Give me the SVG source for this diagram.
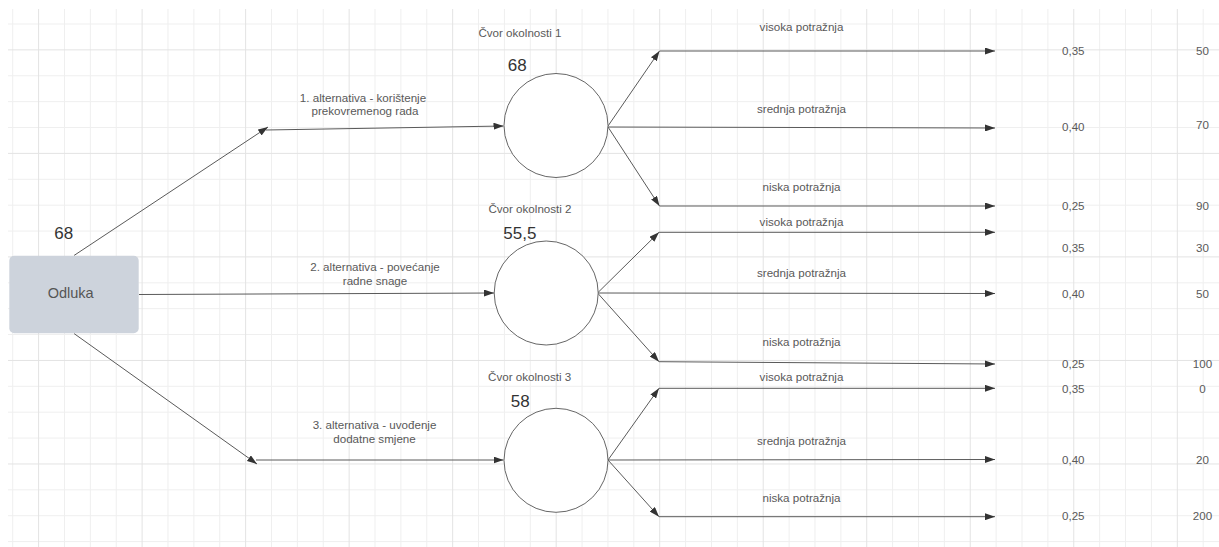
<svg xmlns="http://www.w3.org/2000/svg" width="1219" height="547" viewBox="0 0 1219 547">
<style>
.minor{stroke:#efefef;stroke-width:1;fill:none}
.major{stroke:#e3e3e3;stroke-width:1;fill:none}
.conn line{stroke:#5a5a5a;stroke-width:1;fill:none;marker-end:url(#arr)}
.t{font-family:"Liberation Sans",Arial,sans-serif;font-size:11.6px;fill:#595959;text-anchor:middle}
.big{font-family:"Liberation Sans",Arial,sans-serif;font-size:17px;fill:#333;text-anchor:start}
.circ{fill:#fff;stroke:#666;stroke-width:1}
</style>
<defs>
<marker id="arr" markerUnits="userSpaceOnUse" markerWidth="10" markerHeight="7" refX="10" refY="3.5" orient="auto">
<path d="M0,0 L10,3.5 L0,7 z" fill="#333"/>
</marker>
</defs>
<rect width="1219" height="547" fill="#fff"/>
<g id="grid">
<path class="minor" d="M12.7,9V547 M64.46,9V547 M90.34,9V547 M116.22,9V547 M167.98,9V547 M193.86,9V547 M219.74,9V547 M271.5,9V547 M297.38,9V547 M323.26,9V547 M375.02,9V547 M400.9,9V547 M426.78,9V547 M478.54,9V547 M504.42,9V547 M530.3,9V547 M582.06,9V547 M607.94,9V547 M633.82,9V547 M685.58,9V547 M711.46,9V547 M737.34,9V547 M789.1,9V547 M814.98,9V547 M840.86,9V547 M892.62,9V547 M918.5,9V547 M944.38,9V547 M996.14,9V547 M1022.02,9V547 M1047.9,9V547 M1099.66,9V547 M1125.54,9V547 M1151.42,9V547 M1203.18,9V547 M8,24H1219 M8,75.76H1219 M8,101.64H1219 M8,127.52H1219 M8,179.28H1219 M8,205.16H1219 M8,231.04H1219 M8,282.8H1219 M8,308.68H1219 M8,334.56H1219 M8,386.32H1219 M8,412.2H1219 M8,438.08H1219 M8,489.84H1219 M8,515.72H1219 M8,541.6H1219"/>
<path class="major" d="M38.58,9V547 M142.1,9V547 M245.62,9V547 M349.14,9V547 M452.66,9V547 M556.18,9V547 M659.7,9V547 M763.22,9V547 M866.74,9V547 M970.26,9V547 M1073.78,9V547 M1177.3,9V547 M8,49.88H1219 M8,153.4H1219 M8,256.92H1219 M8,360.44H1219 M8,463.96H1219"/>
</g>
<g id="connectors" class="conn">
<line x1="74" y1="255.5" x2="268" y2="127"/>
<line x1="266" y1="130" x2="503.5" y2="126"/>
<line x1="139" y1="294.5" x2="494" y2="293"/>
<line x1="74" y1="333.5" x2="257" y2="464"/>
<line x1="256" y1="460" x2="503.5" y2="460"/>
<line x1="608" y1="126" x2="659.5" y2="51"/>
<line x1="659.5" y1="51" x2="995" y2="51"/>
<line x1="608" y1="127" x2="995" y2="128"/>
<line x1="608" y1="127" x2="659.5" y2="206"/>
<line x1="659.5" y1="206" x2="995" y2="206"/>
<line x1="598" y1="292.5" x2="659" y2="232.3"/>
<line x1="659" y1="232.3" x2="995" y2="232.3"/>
<line x1="598" y1="293" x2="995" y2="293.5"/>
<line x1="598" y1="293.5" x2="659" y2="361.7"/>
<line x1="659" y1="361.7" x2="995" y2="364"/>
<line x1="608" y1="460" x2="659" y2="388.3"/>
<line x1="659" y1="388.3" x2="995" y2="388.3"/>
<line x1="608" y1="460" x2="995" y2="459.5"/>
<line x1="608" y1="460" x2="659" y2="516.7"/>
<line x1="659" y1="516.7" x2="995" y2="516.7"/>
</g>
<g id="edge-labels">
<text class="t" x="363" y="101.7">1. alternativa - korištenje</text>
<text class="t" x="365" y="115">prekovremenog rada</text>
<text class="t" x="375" y="271">2. alternativa - povećanje</text>
<text class="t" x="375" y="284.5">radne snage</text>
<text class="t" x="374.5" y="429">3. alternativa - uvođenje</text>
<text class="t" x="374.5" y="443">dodatne smjene</text>
<text class="t" x="801.5" y="31.3">visoka potražnja</text>
<text class="t" x="801.5" y="113">srednja potražnja</text>
<text class="t" x="801.5" y="191">niska potražnja</text>
<text class="t" x="801.5" y="226">visoka potražnja</text>
<text class="t" x="801.5" y="277">srednja potražnja</text>
<text class="t" x="801.5" y="345.5">niska potražnja</text>
<text class="t" x="801.5" y="380.5">visoka potražnja</text>
<text class="t" x="801.5" y="445">srednja potražnja</text>
<text class="t" x="801.5" y="501.5">niska potražnja</text>
</g>
<g id="odluka">
<rect x="9.3" y="255.7" width="129.4" height="77.6" rx="5" fill="#cdd3dc"/>
<text x="70.7" y="297.5" font-family="'Liberation Sans',Arial,sans-serif" font-size="14.5" fill="#555" text-anchor="middle">Odluka</text>
<text class="big" x="54.3" y="239.3">68</text>
</g>
<g id="cvor1">
<circle class="circ" cx="556" cy="125.5" r="52"/>
<text class="t" x="520" y="37">Čvor okolnosti 1</text>
<text class="big" x="507.7" y="70.5">68</text>
</g>
<g id="cvor2">
<circle class="circ" cx="546.2" cy="293" r="52"/>
<text class="t" x="530" y="213">Čvor okolnosti 2</text>
<text class="big" x="503.3" y="239">55,5</text>
</g>
<g id="cvor3">
<circle class="circ" cx="556" cy="460.3" r="52"/>
<text class="t" x="529.6" y="380.5">Čvor okolnosti 3</text>
<text class="big" x="510.7" y="407">58</text>
</g>
<g id="probabilities">
<text class="t" x="1073.3" y="55">0,35</text>
<text class="t" x="1073.3" y="131">0,40</text>
<text class="t" x="1073.3" y="210">0,25</text>
<text class="t" x="1073.3" y="251.5">0,35</text>
<text class="t" x="1073.3" y="298">0,40</text>
<text class="t" x="1073.3" y="367.5">0,25</text>
<text class="t" x="1073.3" y="392.9">0,35</text>
<text class="t" x="1073.3" y="463.5">0,40</text>
<text class="t" x="1073.3" y="520">0,25</text>
</g>
<g id="payoffs">
<text class="t" x="1202.5" y="55">50</text>
<text class="t" x="1202.5" y="129">70</text>
<text class="t" x="1202.5" y="210">90</text>
<text class="t" x="1202.5" y="251.5">30</text>
<text class="t" x="1202.5" y="298">50</text>
<text class="t" x="1202.5" y="367.5">100</text>
<text class="t" x="1202.5" y="392.9">0</text>
<text class="t" x="1202.5" y="463.5">20</text>
<text class="t" x="1202.5" y="520">200</text>
</g>
</svg>
